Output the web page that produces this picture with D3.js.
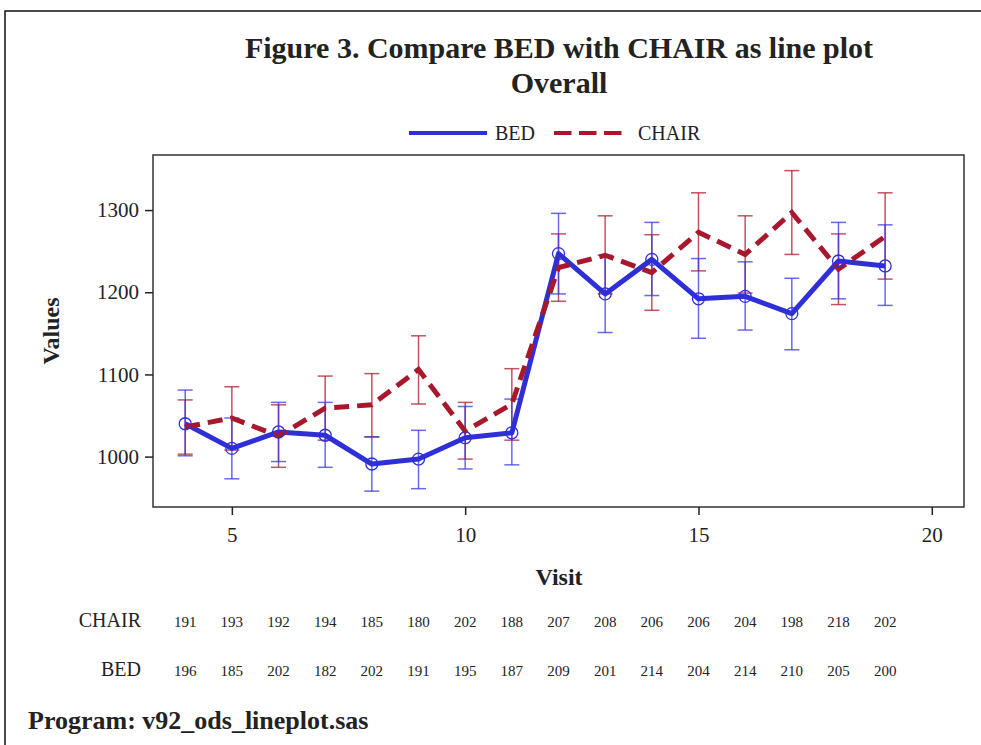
<!DOCTYPE html>
<html>
<head>
<meta charset="utf-8">
<script src="https://cdn.jsdelivr.net/npm/d3@7"></script>
<style>
  body { margin: 0; background: #fff; }
  text { font-family: "Liberation Serif", "DejaVu Serif", serif; fill: #222; }
</style>
</head>
<body>
<div id="chart"></div>
<script>
// data
var visits = [4, 5, 6, 7, 8, 9, 10, 11, 12, 13, 14, 15, 16, 17, 18, 19];

var bedMean  = [1040, 1010, 1030, 1026, 991, 997, 1023, 1029, 1247, 1198, 1240, 1192, 1195, 1174, 1238, 1232];
var bedLow   = [1001, 973, 994, 987, 958, 961, 985, 990, 1198, 1151, 1196, 1144, 1154, 1130, 1192, 1184];
var bedHigh  = [1081, 1047, 1066, 1066, 1024, 1032, 1061, 1070, 1296, 1245, 1285, 1241, 1237, 1217, 1285, 1282];

var chairMean = [1036, 1047, 1025, 1059, 1063, 1106, 1031, 1064, 1230, 1245, 1224, 1273, 1246, 1297, 1228, 1268];
var chairLow  = [1003, 1008, 987, 1020, 1024, 1064, 997, 1020, 1189, 1198, 1178, 1226, 1199, 1246, 1185, 1216];
var chairHigh = [1069, 1085, 1063, 1098, 1101, 1147, 1066, 1107, 1271, 1293, 1270, 1321, 1293, 1348, 1271, 1321];

var chairN = [191, 193, 192, 194, 185, 180, 202, 188, 207, 208, 206, 206, 204, 198, 218, 202];
var bedN   = [196, 185, 202, 182, 202, 191, 195, 187, 209, 201, 214, 204, 214, 210, 205, 200];

var xTicks = [5, 10, 15, 20];
var yTicks = [1000, 1100, 1200, 1300];

var blue = "#2f2fd8", red = "#a8182c";
var blueBar = "rgba(55,55,230,0.75)", redBar = "rgba(175,25,45,0.75)";

var W = 981, H = 745;
var margin = {top: 155, right: 17, bottom: 238, left: 153},
    width = W - margin.left - margin.right,
    height = H - margin.top - margin.bottom;

var svg = d3.select("#chart").append("svg")
    .attr("width", W).attr("height", H);

// outer frame
svg.append("rect")
    .attr("x", 5).attr("y", 11).attr("width", W + 20).attr("height", H + 20)
    .attr("fill", "none").attr("stroke", "#111").attr("stroke-width", 1.5);

// titles
svg.append("text").attr("x", 559).attr("y", 58)
    .attr("text-anchor", "middle").style("font-weight", "bold").style("font-size", "30px")
    .text("Figure 3. Compare BED with CHAIR as line plot");
svg.append("text").attr("x", 559).attr("y", 93)
    .attr("text-anchor", "middle").style("font-weight", "bold").style("font-size", "30px")
    .text("Overall");

// legend
var leg = svg.append("g");
leg.append("line").attr("x1", 409).attr("x2", 487).attr("y1", 133).attr("y2", 133)
    .attr("stroke", blue).attr("stroke-width", 4);
leg.append("text").attr("x", 495).attr("y", 140).style("font-size", "20px").text("BED");
leg.append("line").attr("x1", 554).attr("x2", 622).attr("y1", 133).attr("y2", 133)
    .attr("stroke", red).attr("stroke-width", 4).attr("stroke-dasharray", "17.5,7.5");
leg.append("text").attr("x", 638).attr("y", 140).style("font-size", "20px").text("CHAIR");

var g = svg.append("g")
    .attr("transform", "translate(" + margin.left + "," + margin.top + ")");

var x = d3.scaleLinear().domain([3.31, 20.69]).range([0, width]);
var y = d3.scaleLinear().domain([938.7, 1367]).range([height, 0]);

// frame of the plot area
g.append("rect").attr("width", width).attr("height", height)
    .attr("fill", "none").attr("stroke", "#333").attr("stroke-width", 1.5);

var xAxis = g.append("g").attr("transform", "translate(0," + height + ")")
    .call(d3.axisBottom(x).tickValues(xTicks).tickSize(8).tickPadding(12));
var yAxis = g.append("g")
    .call(d3.axisLeft(y).tickValues(yTicks).tickFormat(d3.format("d")).tickSize(8).tickPadding(6));
[xAxis, yAxis].forEach(function(a) {
    a.select(".domain").remove();
    a.selectAll("line").attr("stroke", "#222").attr("stroke-width", 1.5);
    a.selectAll("text").style("font-size", "21px")
        .style("font-family", "'Liberation Serif', serif").attr("fill", "#222");
});

// axis labels
svg.append("text").attr("x", 559).attr("y", 585)
    .attr("text-anchor", "middle").style("font-weight", "bold").style("font-size", "24px")
    .text("Visit");
svg.append("text")
    .attr("transform", "translate(59," + (margin.top + height / 2) + ") rotate(-90)")
    .attr("text-anchor", "middle").style("font-weight", "bold").style("font-size", "24px")
    .text("Values");

// error bars
function errorBars(low, high, color) {
    var eb = g.append("g");
    visits.forEach(function(v, i) {
        var cx = x(v);
        eb.append("line").attr("x1", cx).attr("x2", cx)
            .attr("y1", y(low[i])).attr("y2", y(high[i]))
            .attr("stroke", color).attr("stroke-width", 1.5);
        [low[i], high[i]].forEach(function(val) {
            eb.append("line").attr("x1", cx - 7.5).attr("x2", cx + 7.5)
                .attr("y1", y(val)).attr("y2", y(val))
                .attr("stroke", color).attr("stroke-width", 1.5);
        });
    });
}
errorBars(chairLow, chairHigh, redBar);
errorBars(bedLow, bedHigh, blueBar);

var line = d3.line()
    .x(function(d) { return x(d[0]); })
    .y(function(d) { return y(d[1]); });

g.append("path")
    .datum(visits.map(function(v, i) { return [v, bedMean[i]]; }))
    .attr("d", line).attr("fill", "none")
    .attr("stroke", blue).attr("stroke-width", 5).attr("stroke-linejoin", "round");

g.append("path")
    .datum(visits.map(function(v, i) { return [v, chairMean[i]]; }))
    .attr("d", line).attr("fill", "none")
    .attr("stroke", red).attr("stroke-width", 5).attr("stroke-dasharray", "15,8");

// BED markers
g.selectAll(".bed-marker")
    .data(visits)
    .enter().append("circle")
    .attr("class", "bed-marker")
    .attr("cx", function(d) { return x(d); })
    .attr("cy", function(d, i) { return y(bedMean[i]); })
    .attr("r", 6)
    .attr("fill", "none").attr("stroke", blue).attr("stroke-width", 1.3);

// counts table
function countRow(label, counts, yPos) {
    svg.append("text").attr("x", 141).attr("y", yPos)
        .attr("text-anchor", "end").style("font-size", "20px").text(label);
    svg.selectAll(null)
        .data(counts)
        .enter().append("text")
        .attr("x", function(d, i) { return margin.left + x(visits[i]); })
        .attr("y", yPos)
        .attr("text-anchor", "middle")
        .style("font-size", "15px")
        .text(function(d) { return d; });
}
countRow("CHAIR", chairN, 627);
countRow("BED", bedN, 676);

// footer
svg.append("text").attr("x", 28).attr("y", 729)
    .style("font-weight", "bold").style("font-size", "26px")
    .text("Program: v92_ods_lineplot.sas");
</script>
</body>
</html>
